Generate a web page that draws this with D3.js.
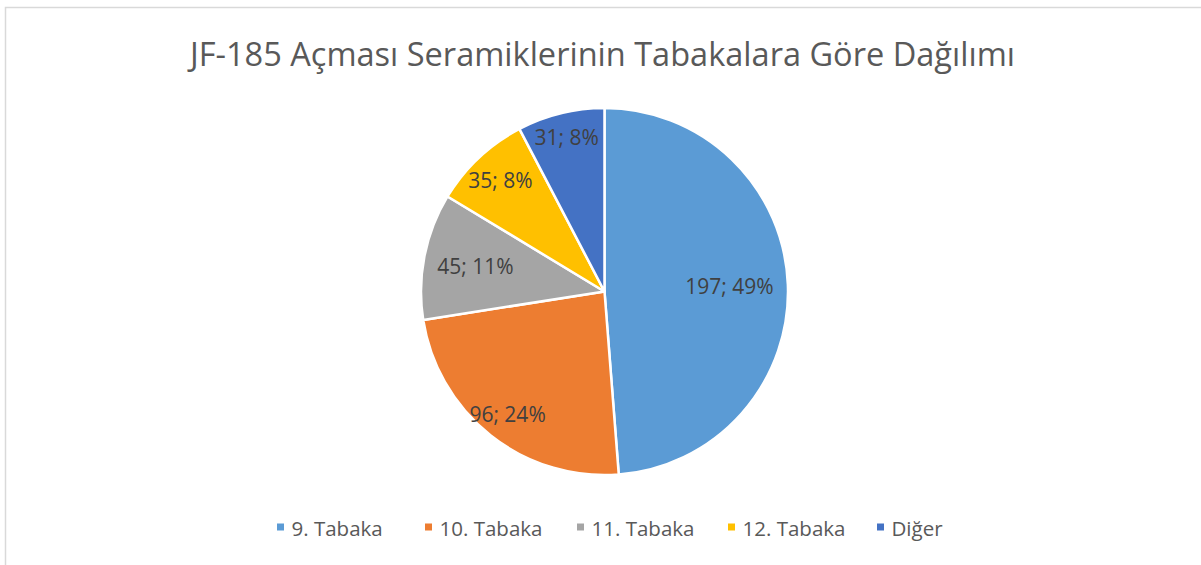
<!DOCTYPE html>
<html>
<head>
<meta charset="utf-8">
<script src="https://cdn.jsdelivr.net/npm/d3@7"></script>
<style>
	body { margin: 0; background: #fff; }
	svg { display: block; }
</style>
</head>
<body>
<div id="chart"></div>
<script>
'use strict';

var categories = ['9. Tabaka', '10. Tabaka', '11. Tabaka', '12. Tabaka', 'Diğer'];
var counts = [197, 96, 45, 35, 31];
var percentLabels = ['49%', '24%', '11%', '8%', '8%'];
var colours = ['#5B9BD5', '#ED7D31', '#A5A5A5', '#FFC000', '#4472C4'];
var chartTitle = 'JF-185 Açması Seramiklerinin Tabakalara Göre Dağılımı';

// how far out each label sits, as a share of the radius (Excel "best fit")
var labelRadius = [0.681, 0.852, 0.717, 0.829, 0.865];

var width = 1201;
var height = 565;
var fontFamily = '"Open Sans", "Noto Sans", sans-serif';

var svg = d3.select('#chart').append('svg')
	.attr('width', width)
	.attr('height', height);

// chart frame (only top and left edges are visible in the crop)
svg.append('path')
	.attr('d', 'M5.5,' + height + 'V7.5H' + width)
	.attr('fill', 'none')
	.attr('stroke', '#d9d9d9')
	.attr('stroke-width', 1.5);

svg.append('text')
	.attr('x', 602.5)
	.attr('y', 66)
	.attr('text-anchor', 'middle')
	.attr('font-family', fontFamily)
	.attr('font-size', 32)
	.attr('fill', '#595959')
	.attr('textLength', 825)
	.attr('lengthAdjust', 'spacingAndGlyphs')
	.text(chartTitle);

var cx = 604.5;
var cy = 291.5;
var radius = 183.5;

var data = categories.map(function (c, i) {
	return { name: c, value: counts[i], pct: percentLabels[i], colour: colours[i], lr: labelRadius[i] };
});

var pie = d3.pie().sort(null).value(function (d) { return d.value; });
var arc = d3.arc().innerRadius(0).outerRadius(radius);
var arcs = pie(data);

var g = svg.append('g').attr('transform', 'translate(' + cx + ',' + cy + ')');

g.selectAll('path.slice').data(arcs).enter().append('path')
	.attr('class', 'slice')
	.attr('d', arc)
	.attr('fill', function (d) { return d.data.colour; })
	.attr('stroke', '#fff')
	.attr('stroke-width', 2.5)
	.attr('stroke-linejoin', 'round');

g.selectAll('text.slice-label').data(arcs).enter().append('text')
	.attr('class', 'slice-label')
	.attr('transform', function (d) {
		var r = radius * d.data.lr;
		var a = (d.startAngle + d.endAngle) / 2;
		return 'translate(' + (Math.sin(a) * r) + ',' + (-Math.cos(a) * r) + ')';
	})
	.attr('text-anchor', 'middle')
	.attr('dy', '0.357em')
	.attr('font-family', fontFamily)
	.attr('font-size', 21)
	.attr('fill', '#404040')
	.text(function (d) { return d.value + '; ' + d.data.pct; });

// legend
var legendX = [277, 425, 577, 728, 877];
var legendY = 527;

var legend = svg.selectAll('g.legend-item').data(data).enter().append('g')
	.attr('class', 'legend-item')
	.attr('transform', function (d, i) { return 'translate(' + legendX[i] + ',' + legendY + ')'; });

legend.append('rect')
	.attr('x', 0)
	.attr('y', -3.5)
	.attr('width', 7)
	.attr('height', 7)
	.attr('fill', function (d) { return d.colour; });

legend.append('text')
	.attr('x', 14.5)
	.attr('y', 9)
	.attr('font-family', fontFamily)
	.attr('font-size', 20.5)
	.attr('fill', '#595959')
	.text(function (d) { return d.name; });
</script>
</body>
</html>
